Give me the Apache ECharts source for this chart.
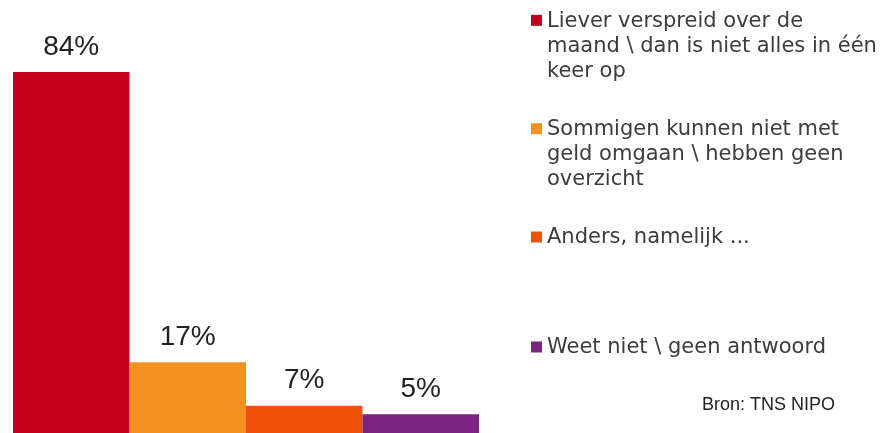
<!DOCTYPE html>
<html><head><meta charset="utf-8">
<script src="https://cdn.jsdelivr.net/npm/echarts/dist/echarts.min.js"></script>
<style>html,body{margin:0;padding:0;background:#fff}#c{width:888px;height:433px}</style>
</head><body><div id="c"></div>
<script>
const categories = [
  'Liever verspreid over de maand \\ dan is niet alles in één keer op',
  'Sommigen kunnen niet met geld omgaan \\ hebben geen overzicht',
  'Anders, namelijk ...',
  'Weet niet \\ geen antwoord'
];
const legendLines = [
  ['Liever verspreid over de', 'maand \\ dan is niet alles in één', 'keer op'],
  ['Sommigen kunnen niet met', 'geld omgaan \\ hebben geen', 'overzicht'],
  ['Anders, namelijk ...'],
  ['Weet niet \\ geen antwoord']
];
const values = [84, 17, 7, 5];
const colors = ['#C4001A', '#F4921F', '#EF5108', '#7B2380'];
const sourceText = 'Bron: TNS NIPO';

const legendTops = [8.8, 117.2, 225.5, 335.5];
const LH = 25;

const chart = echarts.init(document.getElementById('c'), null, {renderer: 'canvas'});

const series = categories.map((name, i) => ({
  name: name,
  type: 'bar',
  data: [values[i]],
  barGap: '0%',
  barCategoryGap: '0%',
  itemStyle: {color: colors[i]},
  label: {
    show: true,
    position: 'top',
    distance: 11,
    formatter: '{c}%',
    fontFamily: 'Liberation Sans',
    fontSize: 28,
    color: '#222222'
  }
}));

const legends = categories.map((name, i) => {
  const H = legendLines[i].length * LH;
  return {
    data: [name],
    left: 531,
    top: legendTops[i],
    padding: 0,
    itemWidth: 11,
    itemHeight: H,
    icon: 'path://M0,0L0,0M0,6H11V17H0ZM0,' + H + 'L0,' + H,
    selectedMode: false,
    formatter: function (n) { return legendLines[categories.indexOf(n)].join('\n'); },
    textStyle: {
      fontFamily: 'DejaVu Sans',
      fontSize: 21,
      lineHeight: LH,
      color: '#3c3c3c'
    }
  };
});

chart.setOption({
  animation: false,
  backgroundColor: '#ffffff',
  title: {
    text: sourceText,
    right: 53,
    top: 396,
    padding: 0,
    textStyle: {fontFamily: 'Liberation Sans', fontSize: 18, fontWeight: 'normal', color: '#222222'}
  },
  grid: {left: 13, width: 466, top: 72, height: 364, containLabel: false, outerBoundsMode: 'none'},
  xAxis: {type: 'category', data: [''], show: false},
  yAxis: {type: 'value', min: 0, max: 84, show: false},
  legend: legends,
  series: series
});
</script>
</body></html>
